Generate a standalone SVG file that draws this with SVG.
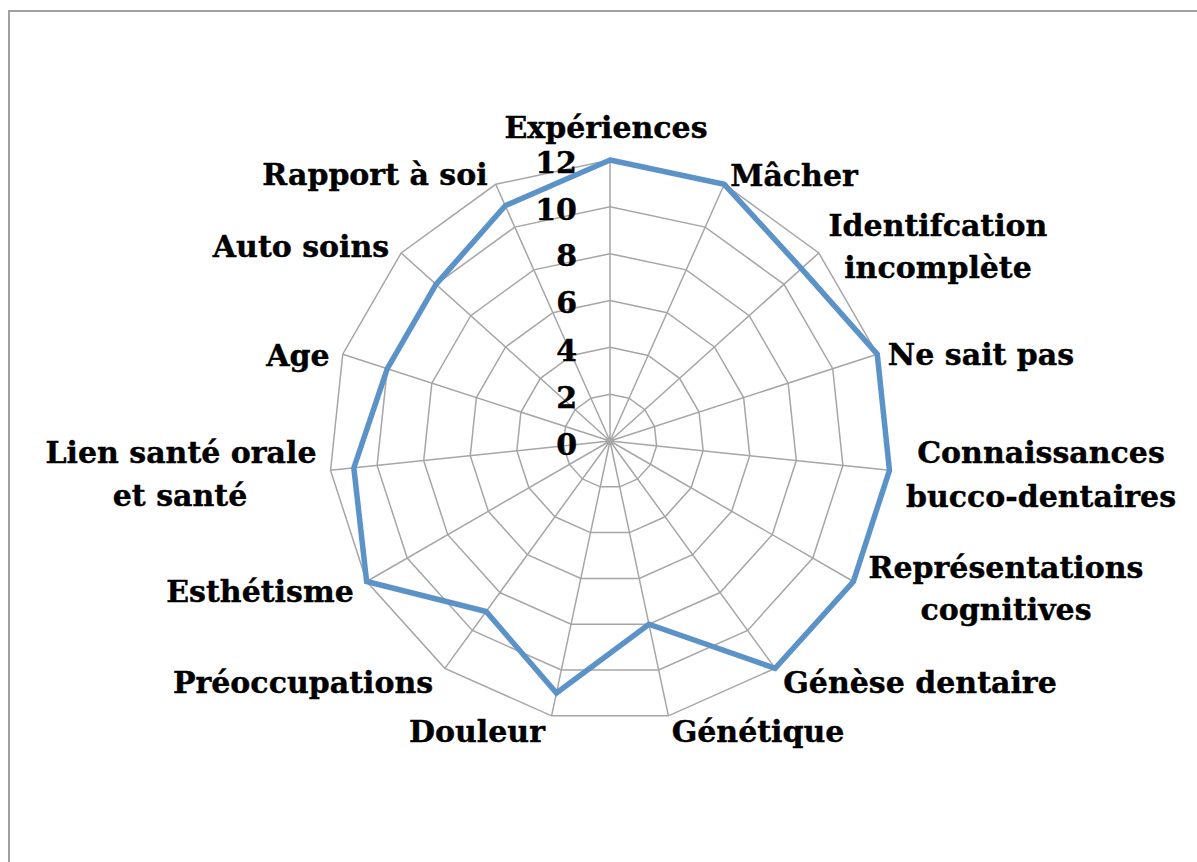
<svg xmlns="http://www.w3.org/2000/svg" xmlns:xlink="http://www.w3.org/1999/xlink" width="1197" height="862" viewBox="0 0 1197 862">
<style>
.lbl{font-family:"DejaVu Serif","Liberation Serif",serif;font-weight:bold;font-size:30px;fill:#000;stroke:#000;stroke-width:0.4;text-anchor:middle}
.num{font-family:"DejaVu Serif","Liberation Serif",serif;font-weight:bold;font-size:30px;fill:#000;stroke:#000;stroke-width:0.4;text-anchor:end}
.grid{fill:none;stroke:#a6a6a6;stroke-width:1.5;vector-effect:non-scaling-stroke}
.data{fill:none;stroke:#5b93c9;stroke-width:5.5;stroke-linejoin:miter}
</style>
<defs>
<polygon id="ring" class="grid" points="0,-281 114.29,-256.71 208.82,-188.03 267.25,-86.83 279.46,29.37 243.35,140.5 165.17,227.33 58.42,274.86 -58.42,274.86 -165.17,227.33 -243.35,140.5 -279.46,29.37 -267.25,-86.83 -208.82,-188.03 -114.29,-256.71"/>
</defs>
<rect width="1197" height="862" fill="#fff"/>
<path d="M9,862 V11 H1197" fill="none" stroke="#a0a0a0" stroke-width="2"/>
<g id="grid">
<use xlink:href="#ring" transform="translate(610 441) scale(0.16667)"/>
<use xlink:href="#ring" transform="translate(610 441) scale(0.33333)"/>
<use xlink:href="#ring" transform="translate(610 441) scale(0.5)"/>
<use xlink:href="#ring" transform="translate(610 441) scale(0.66667)"/>
<use xlink:href="#ring" transform="translate(610 441) scale(0.83333)"/>
<use xlink:href="#ring" transform="translate(610 441)"/>
<path class="grid" transform="translate(610 441)" d="M0,0 L0,-281 M0,0 L114.29,-256.71 M0,0 L208.82,-188.03 M0,0 L267.25,-86.83 M0,0 L279.46,29.37 M0,0 L243.35,140.5 M0,0 L165.17,227.33 M0,0 L58.42,274.86 M0,0 L-58.42,274.86 M0,0 L-165.17,227.33 M0,0 L-243.35,140.5 M0,0 L-279.46,29.37 M0,0 L-267.25,-86.83 M0,0 L-208.82,-188.03 M0,0 L-114.29,-256.71"/>
</g>
<g id="axis-values">
<text class="num" x="577" y="173">12</text>
<text class="num" x="577" y="220">10</text>
<text class="num" x="577" y="266">8</text>
<text class="num" x="577" y="313">6</text>
<text class="num" x="577" y="361">4</text>
<text class="num" x="577" y="408">2</text>
<text class="num" x="577" y="455">0</text>
</g>
<g id="series">
<polygon class="data" points="610,160 724.29,184.29 801.42,268.64 877.25,354.17 889.46,470.37 853.35,581.5 775.17,668.33 648.95,624.24 556.45,692.96 486.12,611.5 366.65,581.5 353.83,467.93 387.29,368.64 435.98,284.31 505.23,205.69"/>
</g>
<g id="labels">
<text class="lbl" x="606" y="138">Expériences</text>
<text class="lbl" x="794" y="186">Mâcher</text>
<text class="lbl" x="938" y="236">Identifcation</text>
<text class="lbl" x="938" y="278">incomplète</text>
<text class="lbl" x="981" y="365">Ne sait pas</text>
<text class="lbl" x="1041" y="463">Connaissances</text>
<text class="lbl" x="1041" y="507">bucco-dentaires</text>
<text class="lbl" x="1006" y="578">Représentations</text>
<text class="lbl" x="1006" y="620">cognitives</text>
<text class="lbl" x="920" y="693">Génèse dentaire</text>
<text class="lbl" x="758" y="742">Génétique</text>
<text class="lbl" x="477" y="742">Douleur</text>
<text class="lbl" x="303" y="693">Préoccupations</text>
<text class="lbl" x="260" y="602">Esthétisme</text>
<text class="lbl" x="181" y="463">Lien santé orale</text>
<text class="lbl" x="180" y="506">et santé</text>
<text class="lbl" x="298" y="366">Age</text>
<text class="lbl" x="301" y="257">Auto soins</text>
<text class="lbl" x="375" y="185">Rapport à soi</text>
</g>
</svg>
